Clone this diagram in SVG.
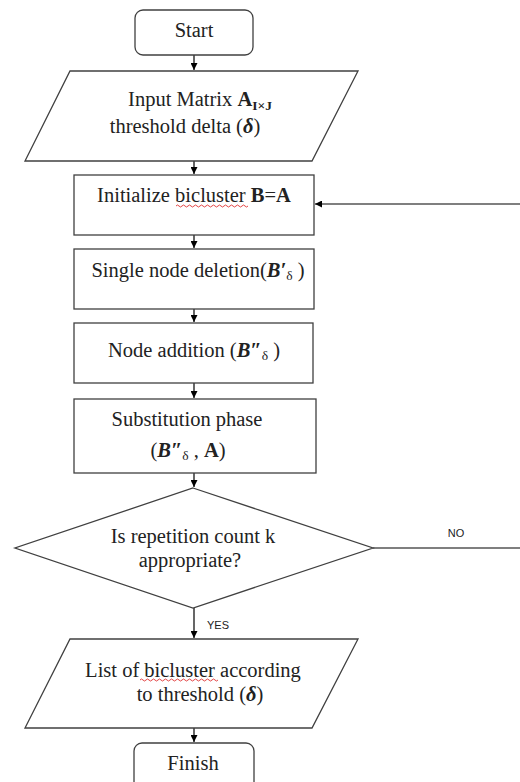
<svg xmlns="http://www.w3.org/2000/svg" width="520" height="782" viewBox="0 0 520 782">
<style>
.shape{fill:#fff;stroke:#404040;stroke-width:1.3}
.t{font-family:"Liberation Serif","DejaVu Serif",serif;font-size:20.5px;fill:#222;text-anchor:middle}
.lbl{font-family:"Liberation Sans","DejaVu Sans",sans-serif;font-size:11px;fill:#222}
.b{font-weight:bold}
.bi{font-weight:bold;font-style:italic}
.sub{font-size:13.5px}
.conn{stroke:#000;stroke-width:1.2;fill:none}
.squig{stroke:#e03030;stroke-width:0.9;fill:none}
</style>
<defs>
<marker id="ah" viewBox="0 0 10 10" refX="10" refY="5" markerWidth="7" markerHeight="7" markerUnits="userSpaceOnUse" orient="auto">
<path d="M0,0 L10,5 L0,10 z" fill="#000"/>
</marker>
</defs>
<rect width="520" height="782" fill="#fff"/>
<g id="connectors">
<line class="conn" x1="194" y1="55" x2="194" y2="70" marker-end="url(#ah)"/>
<line class="conn" x1="194" y1="161" x2="194" y2="174" marker-end="url(#ah)"/>
<line class="conn" x1="520" y1="204" x2="315" y2="204" marker-end="url(#ah)"/>
<line class="conn" x1="194" y1="235" x2="194" y2="248" marker-end="url(#ah)"/>
<line class="conn" x1="194" y1="309" x2="194" y2="322" marker-end="url(#ah)"/>
<line class="conn" x1="194" y1="383" x2="194" y2="398" marker-end="url(#ah)"/>
<line class="conn" x1="194" y1="473" x2="194" y2="487" marker-end="url(#ah)"/>
<line x1="373" y1="548" x2="520" y2="548" stroke="#555" stroke-width="1.3"/>
<text class="lbl" x="456" y="537" text-anchor="middle">NO</text>
<line class="conn" x1="194" y1="608" x2="194" y2="638" marker-end="url(#ah)"/>
<text class="lbl" x="207" y="629">YES</text>
<line class="conn" x1="194" y1="728" x2="194" y2="742" marker-end="url(#ah)"/>
</g>
<g id="start">
<rect class="shape" x="135" y="10" width="118" height="45" rx="8"/>
<text class="t" x="194" y="37">Start</text>
</g>
<g id="input">
<polygon class="shape" points="70,71 358,71 312,161 25,161"/>
<text class="t" x="200" y="106">Input Matrix <tspan class="b">A</tspan><tspan class="b sub" dy="4">I×J</tspan></text>
<text class="t" x="185" y="133">threshold delta (<tspan class="bi">δ</tspan>)</text>
</g>
<g id="init">
<rect class="shape" x="74" y="175" width="240" height="60"/>
<text class="t" x="194" y="202">Initialize bicluster <tspan class="b">B</tspan>=<tspan class="b">A</tspan></text>
<path class="squig" d="M176,206 q1.5,-2 3,0 t3,0 t3,0 t3,0 t3,0 t3,0 t3,0 t3,0 t3,0 t3,0 t3,0 t3,0 t3,0 t3,0 t3,0 t3,0 t3,0 t3,0 t3,0 t3,0 t3,0 t3,0 t3,0 t3,0"/>
</g>
<g id="deletion">
<rect class="shape" x="74" y="249" width="240" height="60"/>
<text class="t" x="198" y="277">Single node deletion(<tspan class="bi">B′</tspan><tspan class="sub" dy="3">δ</tspan><tspan dy="-3"> )</tspan></text>
</g>
<g id="addition">
<rect class="shape" x="74" y="323" width="239" height="60"/>
<text class="t" x="194" y="357">Node addition (<tspan class="bi">B″</tspan><tspan class="sub" dy="3">δ</tspan><tspan dy="-3"> )</tspan></text>
</g>
<g id="substitution">
<rect class="shape" x="74" y="399" width="242" height="74"/>
<text class="t" x="187" y="426">Substitution phase</text>
<text class="t" x="188" y="457">(<tspan class="bi">B″</tspan><tspan class="sub" dy="3">δ</tspan><tspan dy="-3"> , </tspan><tspan class="b">A</tspan>)</text>
</g>
<g id="decision">
<polygon class="shape" points="193,488 373,548 193,608 15,548"/>
<text class="t" x="193" y="543">Is repetition count k</text>
<text class="t" x="190" y="567">appropriate?</text>
</g>
<g id="output">
<polygon class="shape" points="70,639 358,639 312,728 25,728"/>
<text class="t" x="193" y="677">List of bicluster according</text>
<path class="squig" d="M140,680 q1.5,-2 3,0 t3,0 t3,0 t3,0 t3,0 t3,0 t3,0 t3,0 t3,0 t3,0 t3,0 t3,0 t3,0 t3,0 t3,0 t3,0 t3,0 t3,0 t3,0 t3,0 t3,0 t3,0 t3,0 t3,0 t3,0 t3,0"/>
<text class="t" x="200" y="701">to threshold (<tspan class="bi">δ</tspan>)</text>
</g>
<g id="finish">
<rect class="shape" x="134" y="743" width="120" height="50" rx="8"/>
<text class="t" x="193" y="770">Finish</text>
</g>
</svg>
